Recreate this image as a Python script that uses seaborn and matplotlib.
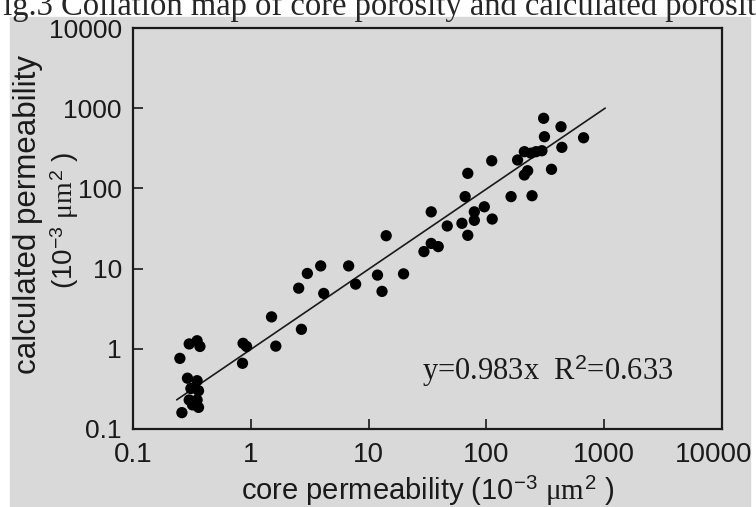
import numpy as np
import pandas as pd
import matplotlib
matplotlib.use("Agg")
import matplotlib.pyplot as plt
import matplotlib.transforms as mtransforms
import seaborn as sns

# core vs calculated permeability (10^-3 um^2)
core_perm = [0.30, 0.35, 0.37, 0.25, 0.29, 0.35, 0.31, 0.36, 0.30, 0.35, 0.32, 0.36, 0.26,
             0.86, 0.92, 0.85,
             1.63, 1.50, 2.69, 2.55, 3.02, 3.92, 4.16, 6.77, 7.76, 11.9, 13.0, 14.1, 19.8,
             29.5, 34, 39, 34, 46.5, 62, 69.5, 79, 79, 96, 112, 66, 69.5, 111, 162, 244,
             184, 210, 239, 264, 296, 210, 224, 306, 311, 430, 437, 357, 668]
calc_perm = [1.15, 1.26, 1.07, 0.76, 0.43, 0.40, 0.32, 0.30, 0.23, 0.23, 0.20, 0.186, 0.16,
             1.17, 1.07, 0.66,
             1.08, 2.5, 1.75, 5.7, 8.7, 10.8, 4.9, 10.8, 6.4, 8.3, 5.2, 25.7, 8.6,
             16.3, 20.6, 18.8, 51, 34, 36.7, 26, 51, 40, 59, 41.5, 79, 154, 221, 79, 81,
             226, 287, 275, 287, 295, 147, 166, 748, 441, 587, 325, 173, 428]

slope = 0.983
r2 = 0.633
fit_x = np.array([0.235, 1020])
fit_y = slope * fit_x

tick_vals = [0.1, 1, 10, 100, 1000, 10000]
tick_labels = ["0.1", "1", "10", "100", "1000", "10000"]

bg = "#d9d9d9"
ink = "#1a1a1a"

sns.set_style("ticks")
plt.rcParams['font.family'] = ['Liberation Sans', 'DejaVu Sans']
plt.rcParams['mathtext.fontset'] = 'custom'
plt.rcParams['mathtext.rm'] = 'Liberation Sans'
plt.rcParams['mathtext.it'] = 'Liberation Serif'

df = pd.DataFrame({"core": core_perm, "calc": calc_perm})
fit = pd.DataFrame({"x": fit_x, "y": fit_y})

fig = plt.figure(figsize=(7.56, 5.07), dpi=100)
fig.patch.set_facecolor("white")
# gray panel behind the chart
panel = plt.Rectangle((10 / 756, 0), 740 / 756, (507 - 17) / 507,
                      transform=fig.transFigure, color=bg, zorder=-10)
fig.patches.append(panel)

ax = fig.add_axes([133 / 756, 78 / 507, 589 / 756, 401 / 507])
ax.set_facecolor(bg)

sns.lineplot(data=fit, x="x", y="y", ax=ax, color=ink, linewidth=1.2, zorder=2)
sns.scatterplot(data=df, x="core", y="calc", ax=ax, color="black", s=66,
                edgecolor="none", zorder=3)

ax.set_xscale("log")
ax.set_yscale("log")
ax.set_xlim(0.1, 10000)
ax.set_ylim(0.1, 10000)
ax.set_xticks(tick_vals)
ax.set_xticklabels(tick_labels)
ax.set_yticks(tick_vals)
ax.set_yticklabels(tick_labels)
ax.minorticks_off()
ax.tick_params(direction="in", length=7, width=1.2, labelsize=19, color=ink, labelcolor=ink)
ax.tick_params(axis="x", pad=9, labelsize=20)
ax.tick_params(axis="y", pad=8)

# last x label sits a bit inside the panel, as in the original
last = ax.get_xticklabels()[-1]
last.set_transform(last.get_transform() +
                   mtransforms.ScaledTranslation(-8 / 100, 0, fig.dpi_scale_trans))

for s in ax.spines.values():
    s.set_linewidth(1.6)
    s.set_color(ink)

ax.set_xlabel(r"core permeability (10$^{-3}$ $\mu m^{2}$ )", fontsize=21, labelpad=5, color=ink)
ax.set_ylabel("calculated permeability", fontsize=22.5, color=ink)
ax.yaxis.set_label_coords(-(133 - 43) / 589, 0.535)
ax.text(-(133 - 81) / 589, 0.52, r"(10$^{-3}$ $\mu m^{2}$ )", transform=ax.transAxes,
        rotation=90, ha="right", va="center", fontsize=20, color=ink)

ax.text(0.49, 0.122, r"y=0.983x  R$^2$=0.633", transform=ax.transAxes,
        fontsize=22, family="Liberation Serif", va="baseline", ha="left", color=ink)

fig.text(-15 / 756, 1 - 15 / 507, "Fig.3 Collation map of core porosity and calculated porosity",
         fontsize=23.5, family="Liberation Serif", va="baseline", ha="left")

fig.savefig("out.png", dpi=100)
